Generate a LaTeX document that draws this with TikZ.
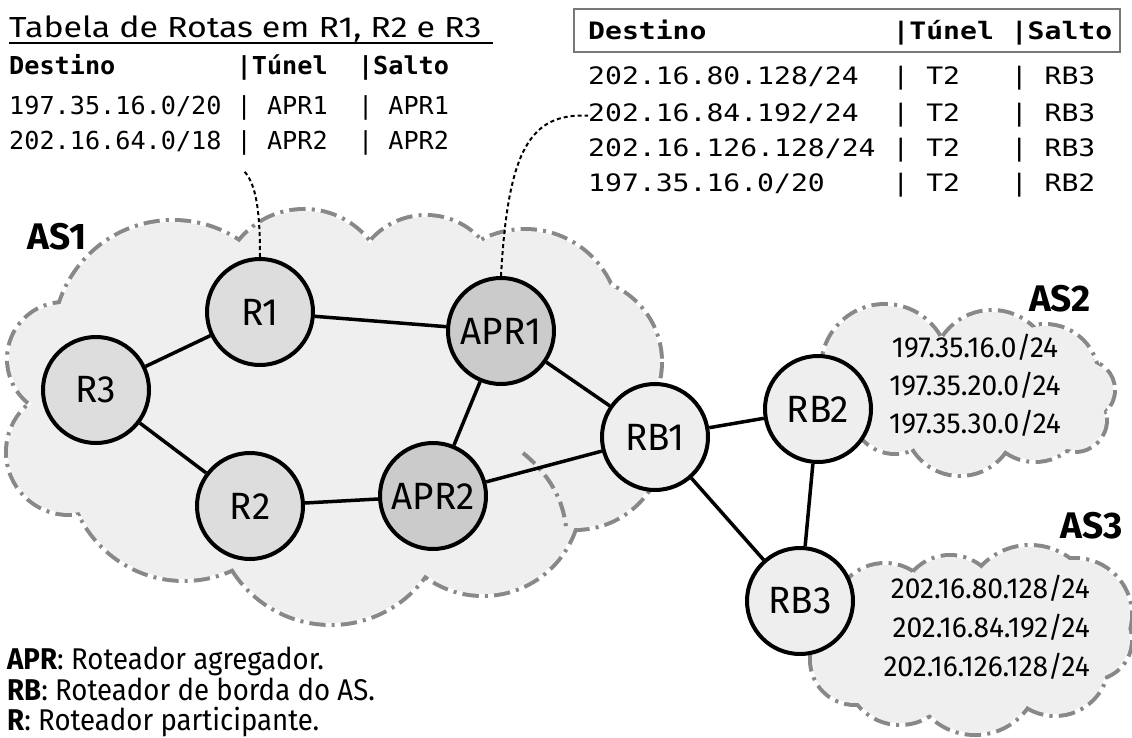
\documentclass[tikz,border=0pt]{standalone}
\usepackage{fontspec}
\setmainfont{Fira Sans}
\newfontfamily\condfont[FakeStretch=0.97]{Fira Sans}
\newfontfamily\legfont[FakeStretch=0.92]{Fira Sans}
\newfontfamily\titfont[FakeStretch=1.17]{Fira Sans}
\newfontfamily\tabfont[FakeStretch=1.02]{DejaVu Sans Mono}
\newfontfamily\widetabfont[FakeStretch=1.17]{DejaVu Sans Mono}
\definecolor{nuvem}{HTML}{EFEFEF}
\definecolor{bordanuvem}{HTML}{888888}
\definecolor{cinzaR}{HTML}{DDDDDD}
\definecolor{cinzaAPR}{HTML}{CBCBCB}
\definecolor{cinzaRB}{HTML}{EEEEEE}
\definecolor{cinzacaixa}{HTML}{777777}
\newcommand\rotfont{\condfont\fontsize{38}{40}\selectfont}

% circulos das nuvens: x/y/raio
\def\nuvemUm{64/359/55, 173/340/118, 304/293/82, 426/289/72, 525/324/93, 578/362/82, 575/440/88, 483/498/96, 331/508/115, 184/464/115, 69/452/61}
\def\nuvemDois{885/368/62, 992/370/58, 1045/378/52, 1085/390/28, 1075/420/30, 1035/410/50, 960/420/54, 895/410/42}
\def\nuvemTres{855/660/43, 885/615/50, 950/605/48, 1030/612/65, 1075/615/55, 1092/640/38, 1055/662/52, 975/670/63, 900/670/53}

\begin{document}
\begin{tikzpicture}[x=1pt, y=-1pt,
  roteador/.style={circle, draw, line width=4pt, minimum size=106pt, inner sep=0pt, font=\rotfont},
  rnode/.style={roteador, fill=cinzaR},
  aprnode/.style={roteador, fill=cinzaAPR},
  rbnode/.style={roteador, fill=cinzaRB},
  ligacao/.style={line width=3.5pt},
  borda/.style={draw=bordanuvem, line width=8pt, dash pattern=on 16pt off 6pt on 3pt off 6pt},
  bordafina/.style={draw=bordanuvem, line width=4pt, dash pattern=on 16pt off 6pt on 3pt off 6pt},
  ponteiro/.style={line width=2pt, dash pattern=on 4pt off 3pt},
  rotuloAS/.style={font=\bfseries\fontsize{37}{40}\selectfont},
  rede/.style={font=\condfont\fontsize{29}{32}\selectfont, inner sep=0pt},
  tabesq/.style={font=\tabfont\fontsize{24.7}{30}\selectfont, inner sep=0pt},
  tabdir/.style={font=\widetabfont\fontsize{24}{28}\selectfont, inner sep=0pt},
  legenda/.style={font=\legfont\fontsize{30}{33}\selectfont, inner sep=0pt}]

  \useasboundingbox (0,0) rectangle (1132,738);

  % Nuvens
  \foreach \cx/\cy/\r in \nuvemUm {\draw[borda] (\cx,\cy) circle[radius=\r];}
  \foreach \cx/\cy/\r in \nuvemDois {\draw[borda] (\cx,\cy) circle[radius=\r];}
  \foreach \cx/\cy/\r in \nuvemTres {\draw[borda] (\cx,\cy) circle[radius=\r];}
  \fill[nuvem] (64,359) -- (173,340) -- (304,293) -- (426,289) -- (525,324) -- (578,362)
    -- (575,440) -- (483,498) -- (331,508) -- (184,464) -- (69,452) -- cycle;
  \fill[nuvem] (885,368) -- (992,370) -- (1045,378) -- (1085,390) -- (1075,420)
    -- (1035,410) -- (960,420) -- (895,410) -- cycle;
  \fill[nuvem] (855,660) -- (885,615) -- (950,605) -- (1030,612) -- (1075,615)
    -- (1092,640) -- (1055,662) -- (975,670) -- (900,670) -- cycle;
  \foreach \cx/\cy/\r in \nuvemUm {\fill[nuvem] (\cx,\cy) circle[radius=\r];}
  \foreach \cx/\cy/\r in \nuvemDois {\fill[nuvem] (\cx,\cy) circle[radius=\r];}
  \foreach \cx/\cy/\r in \nuvemTres {\fill[nuvem] (\cx,\cy) circle[radius=\r];}
  \draw[bordafina] (523,453) .. controls (550,475) and (563,500) .. (566,527);

  % Roteadores
  \node[rnode] (R1) at (260,312) {R1};
  \node[rnode] (R3) at (96,390) {R3};
  \node[rnode] (R2) at (250,506) {R2};
  \node[aprnode] (APR1) at (501,331) {APR1};
  \node[aprnode] (APR2) at (433,496) {APR2};
  \node[rbnode] (RB1) at (655,437) {RB1};
  \node[rbnode] (RB2) at (818,409) {RB2};
  \node[rbnode] (RB3) at (800,601) {RB3};

  % Enlaces
  \draw[ligacao] (R1) -- (R3);
  \draw[ligacao] (R3) -- (R2);
  \draw[ligacao] (R1) -- (APR1);
  \draw[ligacao] (R2) -- (APR2);
  \draw[ligacao] (APR1) -- (APR2);
  \draw[ligacao] (APR1) -- (RB1);
  \draw[ligacao] (APR2) -- (RB1);
  \draw[ligacao] (RB1) -- (RB2);
  \draw[ligacao] (RB1) -- (RB3);
  \draw[ligacao] (RB2) -- (RB3);

  % Nomes dos AS e redes
  \node[rotuloAS] (AS1) at (57,237) {AS1};
  \node[rotuloAS] (AS2) at (1060,299) {AS2};
  \node[rotuloAS] (AS3) at (1092,526) {AS3};
  \node[rede, anchor=base] (as2a) at (975,357) {197.35.16.0/24};
  \node[rede, anchor=base] (as2b) at (975,395) {197.35.20.0/24};
  \node[rede, anchor=base] (as2c) at (975,433) {197.35.30.0/24};
  \node[rede, anchor=base east] (as3a) at (1090,598) {202.16.80.128/24};
  \node[rede, anchor=base east] (as3b) at (1090,637) {202.16.84.192/24};
  \node[rede, anchor=base east] (as3c) at (1090,676) {202.16.126.128/24};

  % Tabela em R1, R2 e R3
  \node[anchor=base west, inner sep=0pt, font=\titfont\fontsize{29}{32}\selectfont] (titulo) at (9,38)
    {Tabela de Rotas em R1, R2 e R3};
  \draw[line width=1.5pt] (9,43) -- (493,43);
  \node[tabesq, anchor=base west] (cabesq) at (9,75) {\bfseries Destino~~~~~~~~|Túnel~~|Salto};
  \node[tabesq, anchor=base west] (rotaA) at (9,115) {197.35.16.0/20~|~APR1~~|~APR1};
  \node[tabesq, anchor=base west] (rotaB) at (9,150) {202.16.64.0/18~|~APR2~~|~APR2};
  \coordinate (fimR1) at (243,170);

  % Tabela em APR1
  \draw[cinzacaixa, line width=1.5pt, fill=white] (574,9) rectangle (1120,52);
  \node[tabdir, anchor=base west] (cabdir) at (588,40) {\bfseries Destino~~~~~~~~~~~|Túnel~|Salto};
  \node[tabdir, anchor=base west] (rota1) at (588,85) {202.16.80.128/24~~|~T2~~~|~RB3};
  \node[tabdir, anchor=base west] (rota2) at (588,122) {202.16.84.192/24~~|~T2~~~|~RB3};
  \node[tabdir, anchor=base west] (rota3) at (588,157) {202.16.126.128/24~|~T2~~~|~RB3};
  \node[tabdir, anchor=base west] (rota4) at (588,192) {197.35.16.0/20~~~~|~T2~~~|~RB2};

  % Ligacoes pontilhadas
  \draw[ponteiro] (R1.north) .. controls (260,205) and (255,182) .. (fimR1);
  \draw[ponteiro] (APR1.north) .. controls (508,150) and (530,113) .. (rota2.west);

  % Legenda
  \node[legenda, anchor=base west] (legAPR) at (7,669) {\textbf{APR}: Roteador agregador.};
  \node[legenda, anchor=base west] (legRB) at (7,700) {\textbf{RB}: Roteador de borda do AS.};
  \node[legenda, anchor=base west] (legR) at (7,730) {\textbf{R}: Roteador participante.};

\end{tikzpicture}
\end{document}
